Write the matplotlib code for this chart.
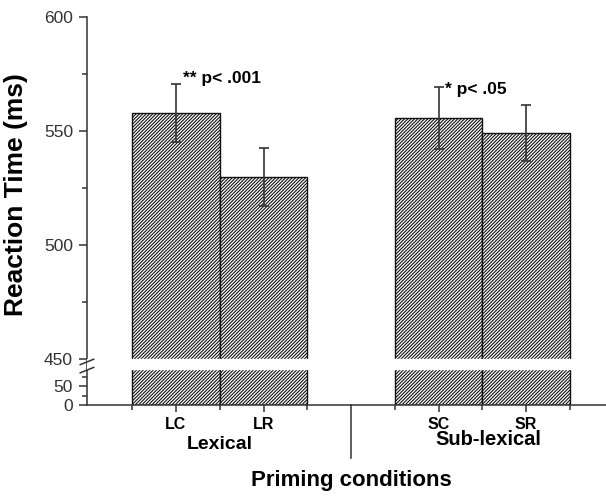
import numpy as np
import matplotlib
matplotlib.use('Agg')
import matplotlib.pyplot as plt
import matplotlib.transforms as mtransforms

# data
conditions = ['LC', 'LR', 'SC', 'SR']
positions = [1, 2, 4, 5]
rt_means = [557.9, 529.8, 555.8, 549.3]
rt_errors = [12.7, 12.7, 13.6, 12.3]
groups = ['Lexical', 'Sub-lexical']
y_ticks = [0, 50, 450, 500, 550, 600]
y_minor = [25, 75, 475, 525, 575]
notes = ['** p< .001', '* p< .05']

plt.rcParams['font.family'] = ['Liberation Sans', 'DejaVu Sans']
plt.rcParams['hatch.linewidth'] = 0.8

# broken y axis: 0..95 squeezed, 95..450 nearly cut out
brk_data = [-1000, 0, 95, 450, 600, 2000]
brk_px = [-380, 0, 36.1, 46, 388, 388 + 1400 * 2.28]

def fwd(y):
    return np.interp(y, brk_data, brk_px)

def inv(y):
    return np.interp(y, brk_px, brk_data)

fig = plt.figure(figsize=(6.06, 4.96), dpi=100)
ax = fig.add_axes([87 / 606, 91 / 496, 519 / 606, 388 / 496])
ax.set_yscale('function', functions=(fwd, inv))

ax.bar(positions, rt_means, width=1.0, facecolor='white', edgecolor='#111111',
       linewidth=1.0, hatch='//////////', zorder=2)
ax.errorbar(positions, rt_means, yerr=rt_errors, fmt='none', ecolor='#333333',
            elinewidth=1.2, capsize=3.5, capthick=1.2, zorder=4)

# white band for the break
ax.axhspan(95, 450, color='white', zorder=3)

ax.set_ylim(0, 600)
ax.set_xlim(-0.017, 5.914)
ax.set_yticks(y_ticks)
ax.set_yticklabels([str(t) for t in y_ticks])
ax.set_yticks(y_minor, minor=True)
ax.set_xticks(positions)
ax.set_xticklabels(conditions, fontweight='bold', fontsize=11.5)
ax.set_xticks([0.5, 1.5, 2.5, 3.5, 4.5, 5.5], minor=True)

for s in ['top', 'right']:
    ax.spines[s].set_visible(False)
for s in ['left', 'bottom']:
    ax.spines[s].set_linewidth(1.1)
    ax.spines[s].set_color('#333333')
    ax.spines[s].set_zorder(2.5)

ax.tick_params(axis='y', which='major', length=6, width=1.1, color='#333333',
               labelsize=12.5, labelcolor='#333333', pad=4)
ax.tick_params(axis='y', which='minor', length=3.5, width=1.1, color='#333333')
ax.tick_params(axis='x', which='major', length=5, width=1.1, color='#333333', pad=3.5)
ax.tick_params(axis='x', which='minor', length=3.5, width=1.1, color='#333333')

# break marks on the y axis
for yb in [0.111, 0.090]:
    ax.plot([-0.013, 0.013], [yb - 0.007, yb + 0.007], transform=ax.transAxes,
            color='#333333', lw=1.1, clip_on=False, zorder=5)

# group separator and labels
trans = mtransforms.blended_transform_factory(ax.transData, ax.transAxes)
ax.plot([3, 3], [0, -0.137], transform=trans, color='#333333', lw=1.1, clip_on=False)
ax.text(1.5, -0.103, groups[0], transform=trans, ha='center', va='center',
        fontsize=14, fontweight='bold')
ax.text(4.57, -0.090, groups[1], transform=trans, ha='center', va='center',
        fontsize=14.5, fontweight='bold')
ax.text(3.0, -0.195, 'Priming conditions', transform=trans, ha='center', va='center',
        fontsize=16, fontweight='bold')

ax.text(1.08, 573.2, notes[0], ha='left', va='center', fontsize=12.5, fontweight='bold')
ax.text(4.07, 568.4, notes[1], ha='left', va='center', fontsize=12.5, fontweight='bold')

fig.text(16 / 606, 1 - 194.5 / 496, 'Reaction Time (ms)', rotation=90,
         ha='center', va='center', fontsize=19, fontweight='bold')

fig.savefig('out.png', dpi=100)
